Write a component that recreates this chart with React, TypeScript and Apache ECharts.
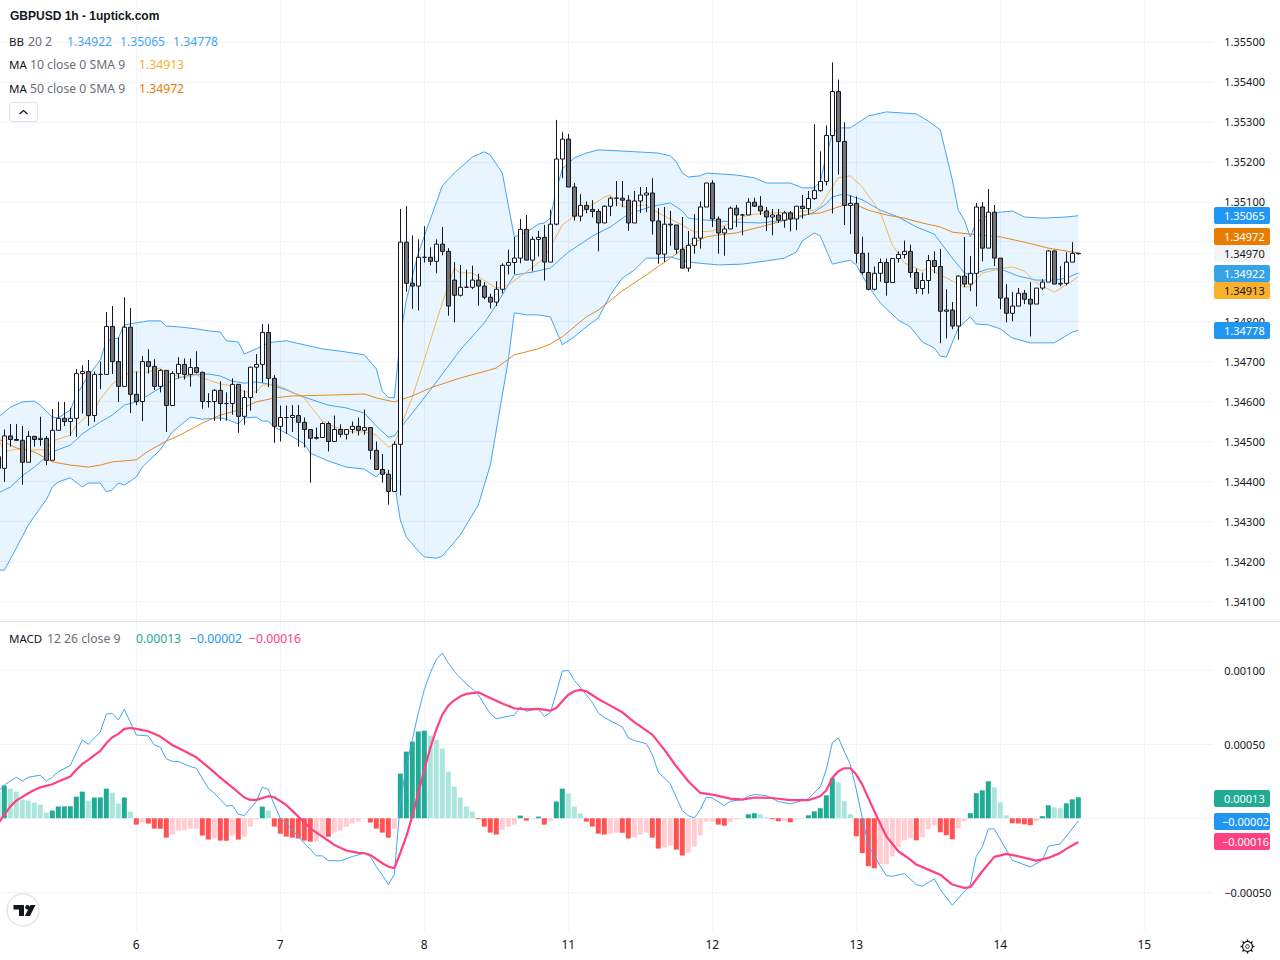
import React, { useEffect, useRef } from "react";
import * as echarts from "echarts";

// All prices are in 1/100000 (points); MACD values in 1/100000 too.
const POINT = 100000;
const barCount = 203; // 181 candles + empty bars to the right scale
const dayLabels: Record<number, string> = { 23: "6", 47: "7", 71: "8", 95: "11", 119: "12", 143: "13", 167: "14", 191: "15" };
const firstOpen = 134462;
const gapOpens: Record<number, number> = { 76: 134904 };
const closes = [
  134433,134514,134505,134503,134448,134513,134505,134508,134453,134528,
  134558,134550,134558,134670,134675,134565,134668,134668,134788,134700,
  134638,134786,134618,134600,134700,134688,134638,134678,134590,134670,
  134693,134668,134685,134673,134600,134600,134628,134595,134595,134643,
  134563,134610,134686,134693,134773,134658,134538,134560,134560,134565,
  134548,134530,134508,134510,134545,134500,134530,134518,134530,134538,
  134528,134535,134478,134430,134418,134375,134493,134999,134896,134889,
  134961,134961,134951,134994,134976,134839,134866,134886,134886,134904,
  134889,134861,134849,134881,134941,134948,134959,135031,134954,135006,
  135011,134949,135044,135207,135257,135137,135064,135091,135081,135076,
  135047,135089,135109,135109,135104,135047,135102,135117,135122,135052,
  134969,135044,135042,134981,134934,134991,135009,135087,135147,135057,
  135022,135032,135084,135067,135067,135099,135089,135077,135062,135067,
  135054,135072,135057,135089,135083,135108,135128,135151,135266,135376,
  135251,135091,135096,134971,134923,134881,134921,134948,134898,134958,
  134968,134976,134923,134883,134903,134953,134938,134826,134829,134789,
  134914,134894,134921,135087,134984,135074,134959,134859,134821,134839,
  134871,134856,134844,134884,134899,134977,134894,134896,134949,134971,
  134970,
];
const highs = [
  134487,134530,134544,134544,134539,134526,134513,134562,134514,134581,
  134599,134599,134584,134681,134691,134704,134675,134700,134824,134839,
  134761,134861,134834,134675,134714,134731,134706,134681,134678,134676,
  134711,134708,134708,134726,134675,134621,134631,134651,134623,134658,
  134643,134628,134686,134719,134794,134794,134666,134590,134590,134591,
  134591,134560,134530,134535,134548,134550,134565,134543,134530,134550,
  134560,134580,134535,134500,134469,134429,134500,135082,135089,135016,
  135006,135039,134986,135006,135037,134984,134949,134942,134930,134940,
  134920,134899,134870,134901,134946,134980,135012,135057,135067,135013,
  135027,135042,135080,135305,135274,135270,135147,135119,135101,135104,
  135082,135091,135113,135152,135152,135117,135127,135137,135137,135159,
  135084,135087,135077,135042,135062,135027,135069,135101,135147,135154,
  135063,135039,135088,135092,135069,135109,135110,135114,135087,135082,
  135082,135077,135077,135089,135117,135127,135294,135226,135291,135449,
  135406,135299,135116,135113,135013,134973,134938,134958,134958,134958,
  134976,135003,134993,134933,134923,134967,134976,134982,134881,134849,
  134916,135012,134964,135097,135099,135132,135092,134959,134894,134874,
  134884,134879,134899,134884,134906,134979,134979,134939,134974,134999,
  134972,
];
const lows = [
  134416,134399,134487,134504,134392,134448,134487,134489,134441,134453,
  134528,134539,134514,134512,134570,134539,134549,134631,134668,134669,
  134599,134638,134571,134591,134551,134670,134629,134623,134524,134590,
  134658,134655,134637,134670,134582,134585,134552,134552,134552,134567,
  134522,134542,134577,134621,134647,134636,134497,134500,134519,134524,
  134487,134485,134397,134505,134510,134475,134500,134510,134505,134520,
  134515,134517,134455,134430,134397,134342,134375,134365,134875,134832,
  134828,134948,134941,134921,134966,134815,134798,134863,134884,134881,
  134840,134856,134833,134839,134871,134918,134919,134946,134954,134926,
  134963,134903,134949,135041,135159,135137,135053,135051,135071,135061,
  134976,135047,135064,135089,135087,135027,135047,135072,135074,135018,
  134945,134949,134990,134969,134934,134925,134970,134983,135087,135037,
  134970,134965,135032,135037,135016,135067,135087,135067,135027,135016,
  135047,135035,135026,135029,135058,135068,135105,135125,135141,135071,
  135168,135042,135019,134946,134918,134878,134878,134900,134865,134898,
  134948,134958,134910,134870,134868,134870,134921,134746,134758,134781,
  134755,134886,134876,134838,134951,134984,134939,134831,134798,134801,
  134839,134844,134763,134844,134879,134899,134894,134889,134891,134949,
  134968,
];
// Band and average lines, as [bar index, value] pairs.
const bbUpper = [[0,134561],[2,134586],[4,134599],[6,134601],[7,134591],[8,134576],[9,134561],[10,134559],[12,134579],[13,134616],[15,134664],[17,134704],[18,134752],[20,134759],[21,134792],[23,134797],[25,134802],[27,134802],[28,134789],[30,134787],[33,134782],[35,134777],[37,134774],[38,134752],[40,134749],[41,134719],[43,134732],[45,134747],[46,134749],[48,134752],[51,134742],[54,134732],[58,134724],[61,134717],[63,134682],[64,134626],[65,134611],[66,134609],[67,134762],[68,134854],[70,134972],[74,135140],[76,135172],[79,135212],[81,135225],[82,135217],[84,135172],[85,135092],[86,135012],[88,135024],[90,135044],[91,135047],[92,135059],[93,135130],[94,135182],[96,135210],[98,135222],[100,135230],[104,135227],[110,135222],[112,135215],[113,135200],[114,135172],[115,135162],[117,135165],[118,135172],[120,135170],[123,135167],[126,135160],[128,135147],[132,135147],[134,135135],[136,135135],[137,135150],[138,135217],[139,135270],[140,135285],[142,135285],[143,135295],[145,135315],[148,135325],[153,135320],[155,135302],[157,135280],[159,135155],[160,135079],[161,135054],[162,135012],[163,135049],[165,135067],[167,135074],[169,135077],[171,135062],[174,135059],[178,135062],[180,135065]];
const bbLower = [[0,134178],[1,134178],[3,134233],[5,134291],[7,134334],[8,134354],[9,134386],[10,134399],[12,134409],[14,134386],[15,134396],[17,134396],[18,134374],[19,134379],[20,134396],[21,134391],[23,134411],[24,134436],[27,134479],[29,134524],[32,134561],[34,134556],[37,134559],[38,134556],[40,134544],[41,134559],[43,134561],[44,134551],[45,134551],[46,134536],[48,134521],[51,134494],[52,134471],[55,134451],[58,134436],[61,134431],[63,134411],[64,134429],[65,134416],[66,134399],[67,134304],[68,134261],[70,134226],[71,134211],[73,134208],[74,134213],[77,134266],[80,134341],[82,134441],[84,134616],[85,134704],[86,134822],[88,134817],[90,134817],[92,134812],[94,134742],[96,134762],[98,134787],[100,134809],[102,134867],[104,134909],[106,134929],[108,134959],[110,134959],[112,134962],[115,134949],[120,134942],[124,134944],[128,134952],[131,134959],[133,134974],[134,135002],[136,135022],[137,135014],[139,134944],[142,134954],[143,134942],[145,134889],[147,134847],[150,134804],[152,134787],[154,134749],[156,134734],[157,134714],[158,134711],[160,134784],[162,134812],[163,134794],[165,134792],[167,134782],[169,134759],[172,134747],[176,134747],[179,134774],[180,134778]];
const bbBasis = [[0,134371],[2,134386],[4,134414],[6,134436],[9,134474],[12,134491],[14,134519],[17,134549],[19,134566],[21,134591],[23,134599],[25,134616],[27,134634],[29,134654],[32,134667],[35,134669],[37,134664],[39,134651],[41,134646],[43,134649],[45,134644],[48,134629],[51,134611],[55,134591],[58,134584],[61,134571],[63,134539],[65,134511],[66,134514],[67,134534],[69,134571],[72,134629],[76,134709],[77,134729],[81,134797],[83,134842],[86,134917],[89,134924],[92,134934],[95,134974],[99,135014],[102,135037],[105,135069],[109,135089],[112,135097],[114,135077],[115,135059],[118,135054],[123,135049],[127,135047],[130,135052],[133,135059],[136,135074],[138,135095],[139,135112],[141,135120],[144,135105],[147,135079],[150,135062],[153,135037],[156,135019],[159,134959],[161,134922],[162,134917],[165,134932],[167,134932],[170,134914],[173,134904],[176,134904],[178,134909],[180,134922]];
const ma10 = [[0,134506],[1,134474],[3,134481],[5,134479],[8,134479],[9,134501],[12,134516],[13,134541],[16,134579],[17,134606],[19,134644],[22,134674],[25,134674],[27,134684],[28,134671],[31,134659],[33,134667],[35,134654],[37,134644],[39,134639],[41,134624],[43,134624],[44,134641],[46,134644],[48,134631],[51,134609],[52,134589],[54,134551],[56,134536],[59,134524],[61,134524],[63,134516],[65,134486],[66,134491],[67,134534],[69,134611],[71,134704],[74,134847],[76,134934],[77,134922],[79,134922],[83,134884],[85,134892],[88,134924],[91,134959],[92,134987],[94,135042],[96,135064],[99,135092],[101,135112],[102,135117],[104,135087],[108,135092],[110,135072],[114,135042],[116,135024],[119,135027],[122,135047],[125,135067],[128,135072],[133,135074],[136,135079],[137,135089],[139,135137],[140,135160],[142,135165],[144,135137],[147,135074],[149,134992],[151,134947],[154,134927],[155,134934],[157,134917],[161,134887],[162,134887],[164,134922],[167,134932],[169,134937],[171,134927],[173,134897],[176,134874],[178,134892],[180,134913]];
const ma50 = [[0,134506],[3,134484],[6,134474],[9,134449],[12,134441],[15,134436],[17,134441],[19,134449],[23,134454],[25,134476],[28,134501],[30,134514],[34,134546],[37,134566],[40,134579],[43,134599],[46,134609],[49,134614],[55,134616],[61,134619],[63,134609],[66,134599],[67,134604],[69,134614],[72,134634],[77,134659],[80,134671],[83,134684],[86,134717],[90,134732],[92,134744],[94,134762],[98,134812],[100,134829],[104,134877],[108,134917],[112,134959],[115,134992],[118,135012],[120,135017],[123,135022],[127,135037],[132,135057],[134,135067],[137,135072],[141,135092],[143,135092],[145,135079],[148,135067],[151,135059],[154,135047],[157,135037],[159,135024],[162,135019],[167,135012],[171,134999],[175,134984],[180,134972]];
const macdLine = [[0,18.0],[1,22.5],[3,27.7],[4,25.2],[5,27.7],[7,29.1],[8,25.2],[9,27.7],[10,31.5],[12,35.6],[14,52.9],[15,50.0],[17,58.3],[18,70.3],[19,70.9],[20,66.4],[21,73.6],[23,56.3],[25,55.6],[26,49.5],[27,48.0],[28,40.1],[29,38.5],[30,38.3],[32,34.9],[33,33.8],[35,20.3],[36,16.9],[38,8.3],[39,8.6],[40,2.7],[41,1.8],[43,11.3],[44,20.9],[45,19.6],[46,9.0],[47,0],[48,-3.4],[50,-12.4],[53,-25.4],[54,-25.4],[55,-28.6],[57,-28.8],[59,-25.9],[61,-23.6],[62,-25.9],[63,-32.7],[64,-38.3],[65,-44.8],[66,-38],[67,10.4],[68,35.1],[69,53.1],[70,71.2],[71,86.9],[72,98.2],[73,107.2],[74,111.7],[75,104.9],[76,99.3],[77,94.8],[78,90.8],[79,87.4],[80,83.5],[81,76.8],[82,70.7],[83,67.3],[85,68.9],[86,69.6],[87,75.2],[88,72.3],[90,73.9],[91,68.9],[92,71.2],[93,84.7],[94,99.3],[95,100.0],[96,93.2],[98,83.5],[99,78.4],[100,71.2],[101,68.0],[104,61.7],[105,54.3],[106,52.5],[108,50.4],[109,43.0],[110,31.1],[112,23.2],[114,5.2],[115,1.8],[116,0.2],[117,5.9],[118,14.2],[119,13.7],[121,8.6],[122,11.5],[124,12.6],[125,14.9],[126,16.0],[128,15.3],[130,11.3],[132,9.7],[135,13.1],[137,21.2],[138,32.9],[139,50.9],[140,54.3],[142,36.3],[143,19.4],[144,0.2],[145,-17.8],[146,-25.7],[148,-38.7],[149,-39.2],[151,-37.4],[153,-44.8],[154,-45.9],[156,-41.0],[157,-48.2],[159,-58.8],[162,-44.8],[163,-25.7],[164,-19.4],[165,-7.2],[166,-7.2],[169,-28.4],[172,-32.9],[174,-28.4],[175,-18.9],[177,-17.3],[180,-1.8]];
const macdSignal = [[0,-3.4],[1,2.3],[2,7.9],[3,11.9],[5,16.9],[6,19.1],[7,20.9],[9,23.0],[10,24.8],[12,28.2],[13,32.7],[14,36.7],[15,39.4],[17,45.5],[18,50.7],[19,54.7],[20,57.0],[21,60.4],[22,61.0],[23,60.4],[25,58.8],[27,55.2],[29,49.5],[31,45.5],[33,41.2],[35,34.5],[37,27.5],[39,20.9],[41,14.0],[42,12.4],[43,12.4],[45,14.9],[46,14.2],[48,9.0],[50,1.1],[52,-6.8],[54,-12.4],[56,-18.0],[58,-21.8],[60,-23.4],[61,-23.6],[62,-24.8],[64,-30.4],[65,-32.7],[66,-33.8],[67,-23.4],[68,-12.2],[69,1.4],[70,17.1],[71,32.9],[72,47.5],[73,59.9],[74,70.0],[75,76.1],[76,79.7],[77,82.4],[78,84.0],[80,85.1],[82,81.3],[84,77.5],[86,74.3],[88,73.6],[90,73.9],[92,72.7],[93,74.5],[94,79.0],[95,83.5],[96,85.8],[97,86.7],[98,85.8],[100,80.6],[102,76.1],[104,71.6],[106,64.9],[109,56.5],[111,46.4],[113,35.1],[115,25.0],[117,17.1],[119,16.0],[122,13.3],[124,12.6],[126,14.0],[129,13.7],[132,12.2],[135,12.2],[137,14.9],[138,18.9],[139,27.2],[140,31.8],[141,33.8],[142,33.8],[143,29.5],[144,22.7],[146,4.7],[148,-12.2],[150,-22.3],[152,-27.9],[153,-31.3],[155,-34.7],[157,-38.1],[159,-44.8],[161,-47.1],[162,-46.6],[164,-35.8],[166,-26.1],[168,-24.1],[170,-25.7],[173,-28.6],[175,-26.8],[177,-23.4],[178,-20.7],[180,-16]];
const macdHist = [
  18,22.1,20,18,12.6,11.9,10.6,9.2,3.8,5.2,
  7.9,8.0,8.1,14.6,18,11.9,14,14.1,20,17.3,
  9.9,14,4.5,-4.3,-2.9,-3.6,-7,-7.1,-13.1,-11,
  -8.3,-8.2,-7,-6.9,-11.7,-14.4,-13.7,-15.1,-15.2,-11.7,
  -14.4,-12.4,-5.6,-0.9,7.9,5.2,-5.6,-10.4,-12.4,-13.1,
  -13.7,-15.1,-15.8,-15.7,-12.4,-12.5,-9.7,-8.3,-5.6,-3.6,
  -2.3,-0.2,-2.9,-7,-9.7,-13.1,-7,30.2,45,51.8,
  58.6,59.2,55.8,53.1,47.1,31.5,21.4,14,7.9,4.5,
  -0.6,-5.6,-9.7,-11,-7.7,-5.6,-4.3,1.8,-1.6,-0.3,
  1.1,-4.3,-1.6,11.3,20,16.7,7.9,3.2,-2.3,-5.6,
  -10.4,-11,-10.4,-9.7,-9.8,-13.7,-13.1,-11,-9.7,-13.1,
  -20.5,-19.8,-18.5,-21.2,-25.2,-23.2,-19.1,-11.7,-2.3,-2.2,
  -4.3,-5,-2.3,-0.9,-0.3,2.7,3.4,2.7,0.7,-0.7,
  -2,-1.9,-2.7,-0.7,-0.3,2,4.7,6.8,15.5,27,
  24.3,11.5,2.7,-12.2,-23.6,-32.4,-33.8,-31.1,-31,-25.7,
  -19.6,-14.9,-13.5,-14.9,-12.8,-7.4,-4.7,-9.5,-11.5,-14.2,
  -6.8,-2,3.4,16.9,18.9,25,20.9,10.8,2,-3.4,
  -3.5,-4.1,-4.7,-2,1.4,8.8,7.4,6.8,10.1,12.8,
  14.2,
];
const priceTicks = [1.341, 1.342, 1.343, 1.344, 1.345, 1.346, 1.347, 1.348, 1.349, 1.35, 1.351, 1.352, 1.353, 1.354, 1.355];
const macdTicks = [-0.0005, 0, 0.0005, 0.001];
const priceTags = [
  { text: "1.35065", y: 215.5, bg: "#2196f3", fg: "#ffffff" },
  { text: "1.34972", y: 236.5, bg: "#e67c00", fg: "#ffffff" },
  { text: "1.34970", y: 253.5, bg: "#f5f5f5", fg: "#131722" },
  { text: "1.34922", y: 273.5, bg: "#35a3e6", fg: "#ffffff" },
  { text: "1.34913", y: 290.5, bg: "#f9b12d", fg: "#131722" },
  { text: "1.34778", y: 330.5, bg: "#2196f3", fg: "#ffffff" },
  { text: "0.00013", y: 798.5, bg: "#22ab94", fg: "#ffffff" },
  { text: "\u22120.00002", y: 821.5, bg: "#2196f3", fg: "#ffffff" },
  { text: "\u22120.00016", y: 841.5, bg: "#ff4081", fg: "#ffffff" },
];
const NAME_FONT = "11.5px 'Noto Sans'";
const legendRuns = [
  { text: "GBPUSD 1h - 1uptick.com", x: 10, y: 15.5, fill: "#131722", font: "bold 12px 'Liberation Sans'" },
  { text: "BB", x: 9, y: 41, fill: "#131722", font: NAME_FONT },
  { text: "20 2", x: 28, y: 41, fill: "#6a6d78" },
  { text: "1.34922", x: 67, y: 41, fill: "#42a5f5" },
  { text: "1.35065", x: 120, y: 41, fill: "#42a5f5" },
  { text: "1.34778", x: 173, y: 41, fill: "#42a5f5" },
  { text: "MA", x: 9, y: 64, fill: "#131722", font: NAME_FONT },
  { text: "10 close 0 SMA 9", x: 30, y: 64, fill: "#6a6d78" },
  { text: "1.34913", x: 139, y: 64, fill: "#f9b12d" },
  { text: "MA", x: 9, y: 88, fill: "#131722", font: NAME_FONT },
  { text: "50 close 0 SMA 9", x: 30, y: 88, fill: "#6a6d78" },
  { text: "1.34972", x: 139, y: 88, fill: "#e67c00" },
  { text: "MACD", x: 9, y: 638.5, fill: "#131722", font: NAME_FONT },
  { text: "12 26 close 9", x: 47, y: 638.5, fill: "#6a6d78" },
  { text: "0.00013", x: 136, y: 638.5, fill: "#22ab94" },
  { text: "\u22120.00002", x: 190, y: 638.5, fill: "#2196f3" },
  { text: "\u22120.00016", x: 249, y: 638.5, fill: "#ff4081" },
];

const UI_FONT = "'Noto Sans'";
const GRID_LINE = "#f0f3fa";
// ECharts will not place a grid left of the canvas, so the canvas itself sits 5px left of the page.
const CANVAS_SHIFT = 5;
const isDay = (i: number) => dayLabels[i] !== undefined;
const categories = Array.from({ length: barCount }, (_, i) => String(i));
const toPrice = (p: number) => p / POINT;
const opens = closes.map((_, i) => gapOpens[i] ?? (i === 0 ? firstOpen : closes[i - 1]));
const candles = closes.map((c, i) => [toPrice(opens[i]), toPrice(c), toPrice(lows[i]), toPrice(highs[i])]);
const scaled = (pairs: number[][]) => pairs.map(([i, v]) => [i, v / POINT]);

const histBars = macdHist.map((v, i) => {
  const prev = i === 0 ? v + 1 : macdHist[i - 1];
  const color = v >= 0 ? (v > prev ? "#22ab94" : "#ace5dc") : v < prev ? "#ff5252" : "#ffcdd2";
  return { value: v / POINT, itemStyle: { color } };
});

const lineSeries = (name: string, pairs: number[][], color: string, axis: number, width = 1, z = 3) => ({
  name,
  type: "line",
  xAxisIndex: axis,
  yAxisIndex: axis,
  data: scaled(pairs),
  showSymbol: false,
  symbol: "none",
  z,
  lineStyle: { color, width },
  silent: true,
});

function buildGraphics() {
  const g: any[] = [];
  g.push({ type: "line", z: 50, shape: { x1: -CANVAS_SHIFT, y1: 621.5, x2: 1280, y2: 621.5 }, style: { stroke: "#e0e3eb", lineWidth: 1 } });
  for (const r of legendRuns) {
    g.push({
      type: "text", z: 60, x: r.x, y: r.y,
      style: { text: r.text, fill: r.fill, font: r.font ?? `12.2px ${UI_FONT}`, verticalAlign: "middle", align: "left" },
    });
  }
  // collapse button
  g.push({ type: "rect", z: 60, shape: { x: 9.5, y: 102.5, width: 28, height: 19, r: 3 }, style: { fill: "#fff", stroke: "#e0e3eb", lineWidth: 1 } });
  g.push({ type: "polyline", z: 61, shape: { points: [[19.5, 114], [23.5, 110.5], [27.5, 114]] }, style: { fill: "none", stroke: "#131722", lineWidth: 1.3 } });
  // price tags
  for (const t of priceTags) {
    const negative = t.text.startsWith("\u2212");
    g.push({ type: "rect", z: 70, shape: { x: 1214, y: t.y - 8.5, width: 56, height: 17, r: 2 }, style: { fill: t.bg } });
    g.push({
      type: "text", z: 71, x: negative ? 1222 : 1224, y: t.y - 0.5,
      style: { text: t.text, fill: t.fg, font: `11px ${UI_FONT}`, align: "left", verticalAlign: "middle" },
    });
  }
  // logo badge
  g.push({ type: "circle", z: 60, shape: { cx: 23, cy: 910, r: 16 }, style: { fill: "#fff", stroke: "#e6e6e6", lineWidth: 1.5 } });
  g.push({ type: "polygon", z: 61, shape: { points: [[13.5, 905], [24, 905], [24, 916], [19, 916], [19, 909.5], [13.5, 909.5]] }, style: { fill: "#131722" } });
  g.push({ type: "circle", z: 61, shape: { cx: 27.5, cy: 907.2, r: 2.3 }, style: { fill: "#131722" } });
  g.push({ type: "polygon", z: 61, shape: { points: [[30.5, 905], [35.5, 905], [30, 916], [24.8, 916]] }, style: { fill: "#131722" } });
  // settings gear
  g.push({ type: "circle", z: 60, shape: { cx: 1247.5, cy: 946.5, r: 5 }, style: { fill: "none", stroke: "#131722", lineWidth: 1.2 } });
  g.push({ type: "circle", z: 60, shape: { cx: 1247.5, cy: 946.5, r: 1.8 }, style: { fill: "none", stroke: "#131722", lineWidth: 1 } });
  for (let k = 0; k < 8; k++) {
    const a = (k * Math.PI) / 4;
    g.push({
      type: "line", z: 60,
      shape: { x1: 1247.5 + 5 * Math.cos(a), y1: 946.5 + 5 * Math.sin(a), x2: 1247.5 + 7 * Math.cos(a), y2: 946.5 + 7 * Math.sin(a) },
      style: { stroke: "#131722", lineWidth: 1.4 },
    });
  }
  return [{ type: "group", x: CANVAS_SHIFT, y: 0, children: g }];
}

const bandPolygon = (_: any, api: any) => {
  const pts = [...scaled(bbUpper), ...scaled(bbLower).reverse()].map((p) => api.coord(p));
  return { type: "polygon", shape: { points: pts }, style: { fill: "rgba(33,150,243,0.1)" }, silent: true };
};

export default function App() {
  const ref = useRef<HTMLDivElement>(null);
  useEffect(() => {
    document.body.style.margin = "0";
    const chart = echarts.init(ref.current!, undefined, { renderer: "svg" });
    const gridLeft = CANVAS_SHIFT - 4.7;
    const xBase = {
      type: "category",
      data: categories,
      boundaryGap: true,
      axisLine: { show: false },
      axisTick: { show: false, alignWithLabel: true, interval: (i: number) => isDay(i) },
      splitLine: { show: true, alignWithLabel: true, interval: (i: number) => isDay(i), lineStyle: { color: GRID_LINE, width: 1 } },
    };
    const yLabel = { color: "#131722", fontSize: 11, fontFamily: UI_FONT, margin: 11, padding: [0, 0, 1, 0] };
    chart.setOption({
      animation: false,
      backgroundColor: "#ffffff",
      grid: [
        { left: gridLeft, top: 0, width: 1218, height: 621 },
        { left: gridLeft, top: 622, width: 1218, height: 308 },
      ],
      xAxis: [
        { ...xBase, gridIndex: 0, axisLabel: { show: false } },
        {
          ...xBase,
          gridIndex: 1,
          axisLabel: {
            show: true,
            interval: (i: number) => isDay(i),
            formatter: (_v: string, i: number) => dayLabels[i] ?? "",
            color: "#131722",
            fontSize: 12,
            fontFamily: UI_FONT,
            margin: 8,
          },
        },
      ],
      yAxis: [
        {
          type: "value", gridIndex: 0, position: "right", scale: true, min: 1.340507, max: 1.356051,
          axisLine: { show: false },
          axisTick: { show: false, customValues: priceTicks },
          axisLabel: { ...yLabel, customValues: priceTicks, formatter: (v: number) => v.toFixed(5) },
          splitLine: { show: true, lineStyle: { color: GRID_LINE, width: 1 } },
        },
        {
          type: "value", gridIndex: 1, position: "right", scale: true, min: -0.000755, max: 0.001326,
          axisLine: { show: false },
          axisTick: { show: false, customValues: macdTicks },
          axisLabel: { ...yLabel, customValues: macdTicks, formatter: (v: number) => v.toFixed(5).replace("-", "\u2212") },
          splitLine: { show: true, lineStyle: { color: GRID_LINE, width: 1 } },
        },
      ],
      series: [
        {
          name: "BB fill", type: "custom", xAxisIndex: 0, yAxisIndex: 0, z: 1, silent: true, clip: true,
          renderItem: bandPolygon, data: [[0, toPrice(closes[0])]],
        },
        lineSeries("BB upper", bbUpper, "#42a5f5", 0),
        lineSeries("BB lower", bbLower, "#42a5f5", 0),
        lineSeries("BB basis", bbBasis, "#42a5f5", 0),
        lineSeries("MA 10", ma10, "#f5b759", 0),
        lineSeries("MA 50", ma50, "#e68a1e", 0),
        {
          name: "GBPUSD", type: "candlestick", xAxisIndex: 0, yAxisIndex: 0, z: 5, silent: true,
          data: candles, barWidth: 5,
          itemStyle: { color: "#ffffff", color0: "#737373", borderColor: "#131722", borderColor0: "#131722", borderWidth: 1 },
          markLine: {
            silent: true, symbol: "none", precision: 5, label: { show: false },
            lineStyle: { color: "#e4e4e4", type: [1, 3], width: 1 },
            data: [{ yAxis: toPrice(closes[closes.length - 1]) }],
          },
        },
        {
          name: "MACD hist", type: "bar", xAxisIndex: 1, yAxisIndex: 1, z: 2, silent: true,
          data: histBars, barWidth: 5,
        },
        lineSeries("MACD", macdLine, "#42a5f5", 1, 1, 3),
        lineSeries("Signal", macdSignal, "#ff4081", 1, 2.2, 4),
      ],
      graphic: buildGraphics(),
    });
    return () => chart.dispose();
  }, []);
  return (
    <div style={{ position: "absolute", left: 0, top: 0, width: 1280, height: 960, overflow: "hidden" }}>
      <div ref={ref} style={{ position: "absolute", left: -CANVAS_SHIFT, top: 0, width: 1280 + CANVAS_SHIFT, height: 960 }} />
    </div>
  );
}
